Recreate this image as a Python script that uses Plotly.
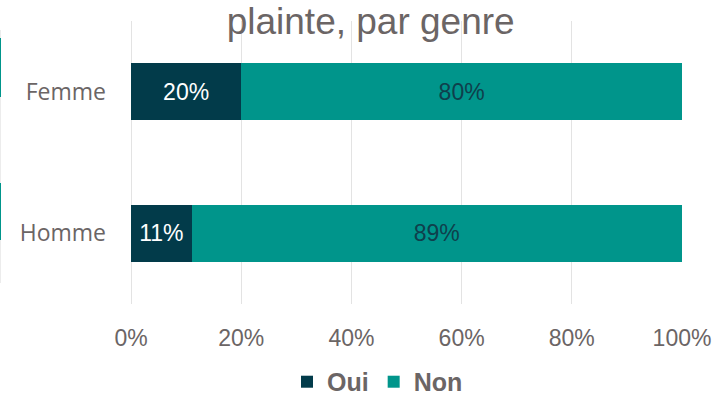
import plotly.graph_objects as go

# Share of respondents who filed a complaint ("plainte"), by gender
genres = ["Femme", "Homme"]
oui = [20, 11]
non = [80, 89]
x_ticks = [0, 20, 40, 60, 80, 100]

DARK = "#023b4a"
TEAL = "#00958b"
GREY_TEXT = "#6b6565"
GRID = "#e3e3e3"

fig = go.Figure()
fig.add_trace(go.Bar(
    y=genres, x=oui, name="Oui", orientation="h",
    marker=dict(color=DARK, line=dict(width=0)),
    text=[f"{v}%" for v in oui], textposition="inside",
    insidetextanchor="middle", textangle=0,
    textfont=dict(family="Liberation Sans", size=23, color="white"),
))
fig.add_trace(go.Bar(
    y=genres, x=non, name="Non", orientation="h",
    marker=dict(color=TEAL, line=dict(width=0)),
    text=[f"{v}%" for v in non], textposition="inside",
    insidetextanchor="middle", textangle=0,
    textfont=dict(family="Liberation Sans", size=23, color="#0f3f4c"),
))

fig.update_layout(
    width=717, height=395,
    margin=dict(l=131, r=35, t=21, b=91, autoexpand=False),
    paper_bgcolor="white", plot_bgcolor="white",
    barmode="stack", bargap=0.6,
    showlegend=True,
    title=dict(
        text="plainte, par genre",
        font=dict(family="Liberation Sans", size=37, color=GREY_TEXT),
        x=0.517, xanchor="center", xref="container",
        y=0.946, yanchor="middle", yref="container",
    ),
    legend=dict(
        orientation="h", xref="container", yref="container",
        x=0.5265, xanchor="center", y=0.033, yanchor="middle",
        font=dict(family="Liberation Sans", size=25, color=GREY_TEXT,
                  weight="bold"),
        itemwidth=30, traceorder="normal",
    ),
)

fig.update_xaxes(
    range=[0, 100], tickvals=x_ticks, ticktext=[f"{v}%" for v in x_ticks],
    showgrid=True, gridcolor=GRID, gridwidth=1,
    zeroline=True, zerolinecolor=GRID, zerolinewidth=1,
    showline=False, ticks="", ticklabelstandoff=18, automargin=False,
    tickfont=dict(family="Liberation Sans", size=23, color=GREY_TEXT),
    fixedrange=True,
)
fig.update_yaxes(
    categoryorder="array", categoryarray=genres[::-1],
    showgrid=False, zeroline=False, showline=False, ticks="",
    ticklabelstandoff=24, automargin=False,
    tickfont=dict(family="Open Sans", size=23, color=GREY_TEXT),
    fixedrange=True,
)

# thin slide-edge accents at the far left
edge_x = -131 / 551
fig.add_shape(type="line", xref="paper", yref="paper",
              x0=edge_x, x1=edge_x, y0=1 - (283 - 21) / 283, y1=1 - (30 - 21) / 283,
              line=dict(color="#ececec", width=2), layer="above")
for y0, y1 in [(38, 97), (183, 240)]:
    fig.add_shape(type="line", xref="paper", yref="paper",
                  x0=edge_x, x1=edge_x,
                  y0=1 - (y1 - 21) / 283, y1=1 - (y0 - 21) / 283,
                  line=dict(color=TEAL, width=2), layer="above")

fig.write_html("out.html")
